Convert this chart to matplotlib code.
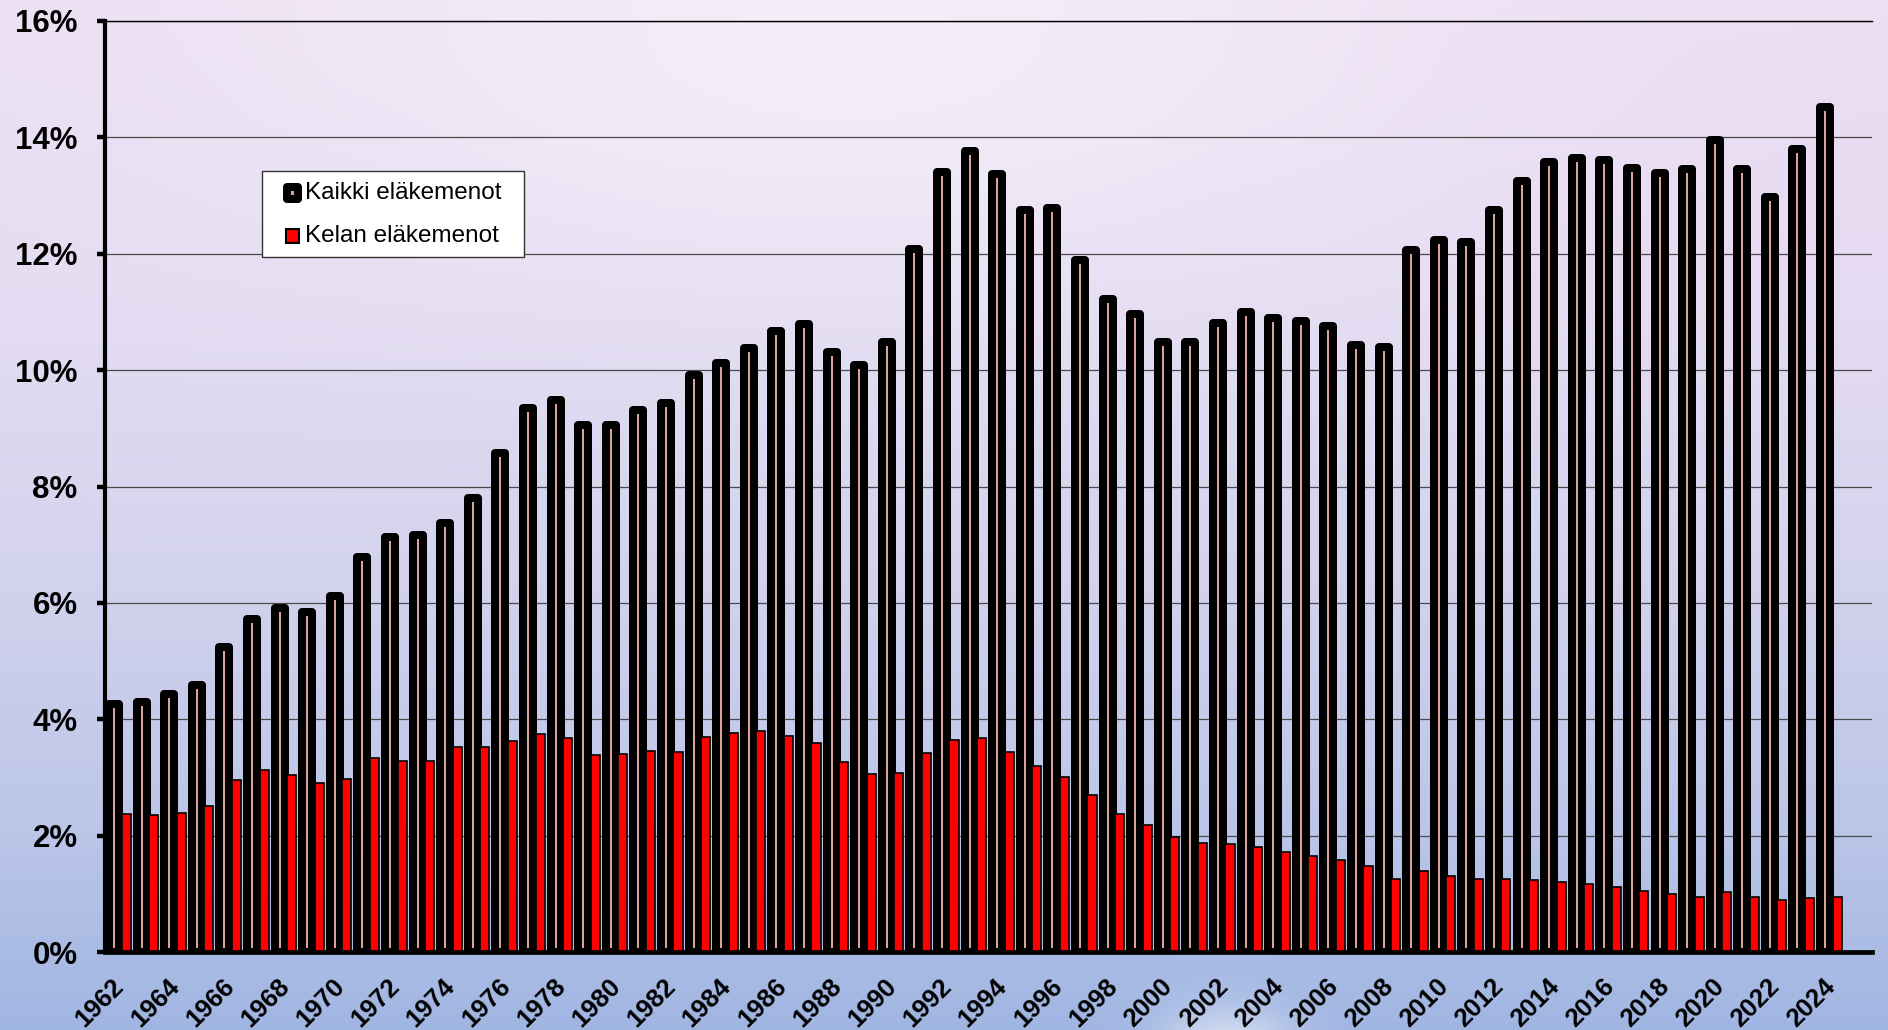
import numpy as np
import matplotlib
matplotlib.use("Agg")
import matplotlib.pyplot as plt
from matplotlib.patches import Rectangle

# ---------------- data ----------------
years = list(range(1962, 2025))
kaikki = [4.26, 4.30, 4.43, 4.59, 5.25, 5.73, 5.91, 5.84, 6.12, 6.79,
          7.13, 7.17, 7.37, 7.80, 8.57, 9.35, 9.49, 9.06, 9.06, 9.31,
          9.44, 9.92, 10.12, 10.38, 10.67, 10.79, 10.32, 10.08, 10.49, 12.09,
          13.41, 13.77, 13.37, 12.75, 12.79, 11.90, 11.23, 10.96, 10.49, 10.48,
          10.81, 11.00, 10.90, 10.84, 10.76, 10.43, 10.40, 12.06, 12.24, 12.21,
          12.76, 13.25, 13.57, 13.65, 13.61, 13.47, 13.39, 13.45, 13.96, 13.46,
          12.98, 13.80, 14.52]
kela = [2.38, 2.35, 2.39, 2.51, 2.95, 3.13, 3.05, 2.91, 2.98, 3.33,
        3.28, 3.29, 3.53, 3.53, 3.63, 3.74, 3.68, 3.38, 3.41, 3.45,
        3.43, 3.70, 3.76, 3.80, 3.72, 3.60, 3.27, 3.06, 3.08, 3.42,
        3.65, 3.67, 3.43, 3.19, 3.01, 2.70, 2.38, 2.19, 1.98, 1.88,
        1.86, 1.81, 1.71, 1.65, 1.58, 1.47, 1.26, 1.39, 1.30, 1.25,
        1.25, 1.23, 1.20, 1.17, 1.12, 1.04, 0.99, 0.94, 1.03, 0.95,
        0.90, 0.93, 0.95]
series_labels = ["Kaikki eläkemenot", "Kelan eläkemenot"]
yticks = [0, 2, 4, 6, 8, 10, 12, 14, 16]
ytick_labels = [f"{v}%" for v in yticks]
xtick_years = years[::2]

plt.rcParams["font.family"] = ["Liberation Sans", "DejaVu Sans"]

W, H = 1888, 1030
fig = plt.figure(figsize=(W / 100, H / 100), dpi=100)

# ---------------- background gradient ----------------
bg = fig.add_axes([0, 0, 1, 1], zorder=-10)
ny, nx = 515, 944
yy = np.linspace(0, 1, ny)[:, None]
xx = np.linspace(0, 1, nx)[None, :]
pos = [0.0, 0.3, 0.55, 0.8, 1.0]
cols = np.array([[236, 224, 243], [228, 220, 242], [212, 211, 237],
                 [188, 198, 232], [160, 182, 226]]) / 255.0
img = np.zeros((ny, nx, 3))
for c in range(3):
    img[:, :, c] = np.interp(yy, pos, cols[:, c]) * np.ones_like(xx)
glow = np.exp(-(((xx - 0.45) / 0.30) ** 2 + ((yy - 0.05) / 0.22) ** 2))
img = img * (1 - 0.45 * glow[..., None]) + 0.45 * glow[..., None]
pink = np.exp(-(((xx - 1.0) / 0.25) ** 2 + ((yy - 0.1) / 0.3) ** 2))
img = img * (1 - 0.15 * pink[..., None]) + 0.15 * pink[..., None] * np.array([0.93, 0.82, 0.95])
blob = np.exp(-(((xx - 0.65) / 0.035) ** 2 + ((yy - 1.02) / 0.04) ** 2))
img = img * (1 - 0.6 * blob[..., None]) + 0.6 * blob[..., None]
bg.imshow(np.clip(img, 0, 1), aspect="auto", extent=[0, 1, 0, 1], origin="upper")
bg.set_axis_off()

# ---------------- main axes ----------------
ax = fig.add_axes([105 / W, 78 / H, 1767 / W, 931 / H])
ax.patch.set_alpha(0)
x = np.arange(len(years))
ax.bar(x, kaikki, width=0.362, color="#D9A29B", edgecolor="black",
       linewidth=5.76, joinstyle="round", zorder=2, label=series_labels[0])
ax.bar(x + 0.435, kela, width=0.33, color="#FF0000", edgecolor="black",
       linewidth=1.2, zorder=3, label=series_labels[1])

ax.set_xlim(-0.33, 63.7)
ax.set_ylim(0, 16)
ax.set_yticks(yticks)
ax.set_yticklabels(ytick_labels, fontsize=22.5, fontweight="bold")
ax.tick_params(axis="y", length=5.8, width=3.2, pad=14, direction="out")
ax.yaxis.grid(True, color="#4a4a4a", linewidth=0.9)
ax.set_axisbelow(True)

xt_idx = np.arange(0, len(years), 2)
ax.set_xticks(xt_idx + 0.22)
ax.set_xticklabels([str(y) for y in xtick_years], rotation=45, ha="right",
                   va="center", rotation_mode="anchor", fontsize=18.5,
                   fontweight="bold")
ax.tick_params(axis="x", length=0, pad=22)

ax.spines["right"].set_visible(False)
ax.spines["top"].set_linewidth(1.0)
ax.spines["left"].set_linewidth(3.0)
ax.spines["bottom"].set_linewidth(3.4)
ax.spines["bottom"].set_zorder(5)

# ---------------- legend (manual box) ----------------
def fx(px):
    return px / W

def fy(py):
    return 1 - py / H

fig.patches.append(Rectangle((fx(262), fy(257)), (524 - 262) / W, (257 - 171) / H,
                             transform=fig.transFigure, facecolor="white",
                             edgecolor="#333333", linewidth=1.0, zorder=20))
s1 = 11
fig.patches.append(Rectangle((fx(292.5 - s1 / 2), fy(193 + s1 / 2)), s1 / W, s1 / H,
                             transform=fig.transFigure, facecolor="#D9A29B",
                             edgecolor="black", linewidth=5.76, joinstyle="round",
                             zorder=21))
s2 = 13
fig.patches.append(Rectangle((fx(292.5 - s2 / 2), fy(236 + s2 / 2)), s2 / W, s2 / H,
                             transform=fig.transFigure, facecolor="#FF0000",
                             edgecolor="black", linewidth=1.5, zorder=21))
fig.text(fx(305), fy(193), series_labels[0], fontsize=17.5, va="center",
         ha="left", zorder=22)
fig.text(fx(305), fy(236), series_labels[1], fontsize=17.5, va="center",
         ha="left", zorder=22)

fig.savefig("out.png", dpi=100)
